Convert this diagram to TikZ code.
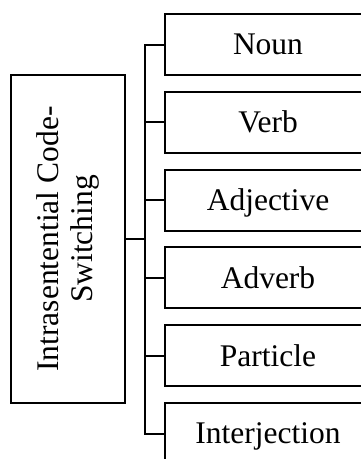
\documentclass[tikz,border=0pt]{standalone}
\usepackage{fontspec}
\setmainfont{Liberation Serif}
\begin{document}
\begin{tikzpicture}[x=1pt,y=-1pt,
  frame/.style={draw=black, line width=2pt},
  catbox/.style={frame, minimum width=206pt, minimum height=61pt, inner sep=0pt,
    text height=20.9pt, text depth=0pt, font=\fontsize{31.5}{34}\selectfont},
  link/.style={draw=black, line width=2pt}]
\clip (0,0) rectangle (361,459);
% root box with its rotated two-line title
\node[frame, minimum width=114pt, minimum height=328pt, inner sep=0pt] (main) at (68,239) {};
\node[rotate=90, align=center, inner sep=0pt, font=\fontsize{31.5}{33.5}\selectfont] (title) at (main.center)
  {Intrasentential Code-\\Switching};
% category boxes
\node[catbox] (b1) at (268,44.5) {Noun};
\node[catbox] (b2) at (268,122.3) {Verb};
\node[catbox] (b3) at (268,200.1) {Adjective};
\node[catbox] (b4) at (268,277.9) {Adverb};
\node[catbox] (b5) at (268,355.7) {Particle};
\node[catbox] (b6) at (268,433.5) {Interjection};
% bus connecting root to categories
\coordinate (bus) at (145,239);
\draw[link] (main.east) -- (bus);
\draw[link] (b1.west) -| (bus) |- (b6.west);
\draw[link] (b2.west) -- (b2.west -| bus);
\draw[link] (b3.west) -- (b3.west -| bus);
\draw[link] (b4.west) -- (b4.west -| bus);
\draw[link] (b5.west) -- (b5.west -| bus);
\end{tikzpicture}
\end{document}
